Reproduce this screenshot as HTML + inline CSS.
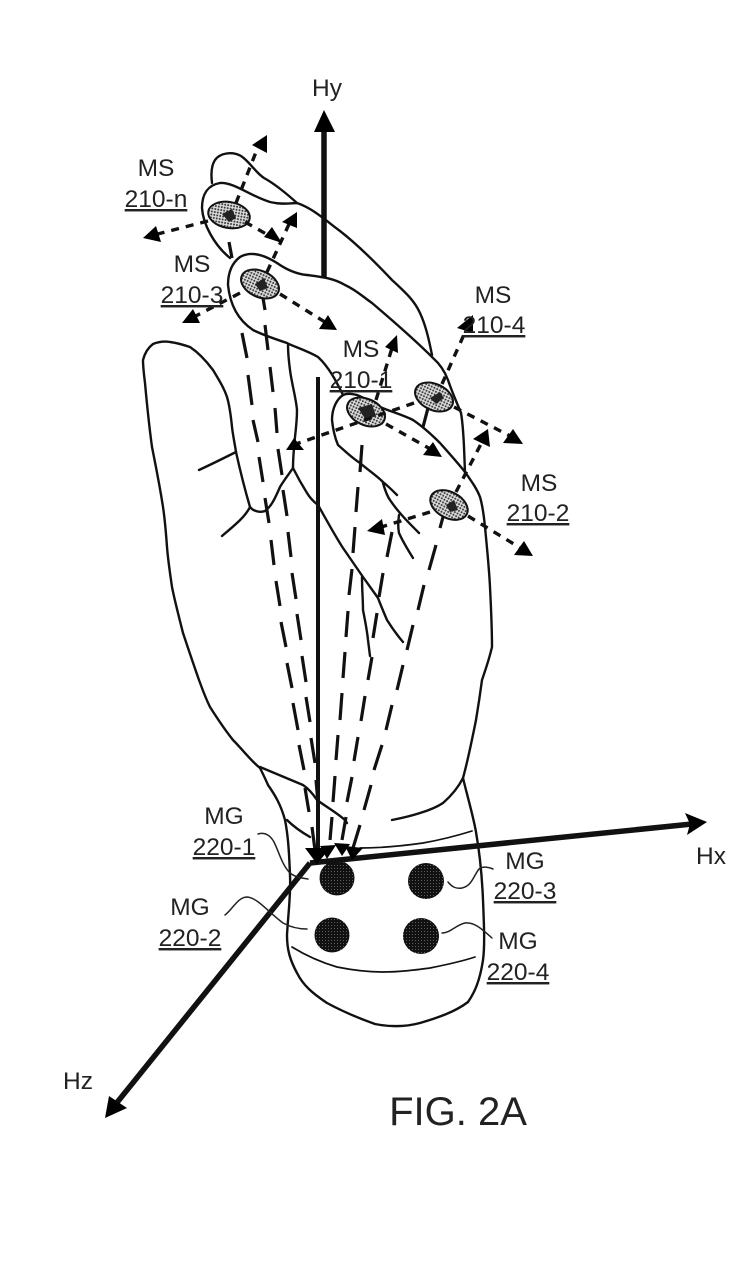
<!DOCTYPE html>
<html><head><meta charset="utf-8"><style>
html,body{margin:0;padding:0;background:#fff;width:756px;height:1266px;overflow:hidden}
svg{display:block}
text{font-family:"Liberation Sans",Arial,sans-serif;font-size:24.5px;fill:#222;text-anchor:middle}
.o{fill:none;stroke:#111;stroke-width:2.4;stroke-linecap:round;stroke-linejoin:round}
.t{fill:none;stroke:#222;stroke-width:1.5;stroke-linecap:round}
.d{fill:none;stroke:#111;stroke-width:3.2}
.a{fill:none;stroke:#111;stroke-width:3.4;stroke-dasharray:8 7}
.x{stroke:#111;stroke-width:5.5;fill:none}
</style></head><body>
<svg width="756" height="1266" viewBox="0 0 756 1266" xmlns="http://www.w3.org/2000/svg">
<defs>
<pattern id="p" width="3" height="3" patternUnits="userSpaceOnUse"><rect width="3" height="3" fill="#ddd"/><circle cx="1.5" cy="1.5" r="1" fill="#333"/></pattern>
<pattern id="q" width="3" height="3" patternUnits="userSpaceOnUse"><rect width="3" height="3" fill="#111"/><circle cx="1.5" cy="1.5" r=".5" fill="#777"/></pattern>
</defs>

<!-- hand outline -->
<path class="o" d="M212 183C211 175 211 166 215 160C220 153 232 151 241 156C250 162 255 172 264 178C275 184 287 194 297 203"/>
<path class="o" d="M230 258C214 245 203 224 202 208C202 194 208 185 220 183C234 182 250 196 270 202C282 205 291 203 297 203C312 208 324 219 340 231C358 245 375 262 392 280C405 292 414 300 420 313C426 326 429 340 432 355"/>
<path class="o" d="M343 395C338 385 330 368 318 357C306 350 292 346 287 343C275 339 263 335 253 330C238 320 230 305 228 285C228 272 232 263 240 257C252 250 266 256 277 263C287 270 296 274 307 275C322 277 333 278 345 285C356 290 362 296 372 303C392 320 415 340 433 358C441 365 445 372 448 380C452 392 457 403 461 413C464 430 464 450 465 472C472 482 477 489 480 497C483 507 484 517 485 527C487 548 489 567 490 587C491 607 492 627 492 647C489 660 486 668 482 680C480 695 478 708 476 720C472 740 468 760 463 778C467 795 473 815 476 832C480 855 482 875 483 900C484 925 485 945 483 960C480 980 475 992 468 1002C455 1012 437 1018 420 1023C405 1027 390 1027 375 1024C358 1018 340 1010 327 1003C312 993 303 985 297 973C290 960 287 950 287 935C288 915 291 895 290 875C289 850 288 835 285 820C281 805 275 795 268 785C265 778 262 772 260 768C250 760 243 750 233 740C225 730 217 718 210 707C205 697 202 688 199 680C193 663 188 648 183 633C179 617 175 602 172 587C170 573 168 560 167 547C166 533 165 520 163 507C160 487 156 467 152 447C149 425 147 405 145 383C144 375 143 367 143 360C145 352 149 347 153 344C158 342 164 341 170 342C178 343 184 345 190 347C199 353 207 362 213 370C219 380 224 388 227 397C230 407 231 417 232 427C233 436 235 445 236 452C240 470 245 490 250 507C253 511 260 513 265 511C272 506 276 496 280 487C284 480 289 474 293 468"/>
<path class="o" d="M343 395C337 399 332 408 332 420C333 430 335 438 338 445C345 451 352 458 360 463C368 470 376 475 383 482C388 486 392 490 397 495"/>
<path class="o" d="M343 395C348 393 352 394 357 395C365 398 372 403 380 407C392 412 403 415 413 420C422 426 432 435 440 443C448 452 457 462 465 472"/>
<path class="o" d="M383 483C385 490 387 496 390 500C398 512 408 522 419 533"/>
<path class="o" d="M399 515C398 522 398 528 399 533C403 542 408 550 413 558"/>
<path class="o" d="M288 345C288 355 289 362 290 370C292 385 296 398 297 410C297 420 296 428 295 437C294 447 293 458 293 468C297 476 302 485 307 493C310 498 314 502 318 505C326 519 334 534 343 548C350 558 356 567 363 577C368 584 373 591 378 598C381 606 384 613 387 620C392 628 397 635 403 642"/>
<path class="o" d="M250 507C245 517 235 525 222 536"/>
<path class="o" d="M199 470C212 464 224 458 236 452"/>
<path class="o" d="M362 577C362 590 363 600 363 610C365 620 367 630 368 640L370 656"/>
<path class="o" d="M260 767L303 785C309 789 313 794 317 800C325 806 336 812 345 820L347 823"/>
<path class="o" d="M287 820C295 828 303 833 310 837"/>
<path class="o" d="M392 820C402 818 411 816 420 813C430 810 437 807 443 803C451 796 458 788 463 778"/>
<path class="o" d="M360 848C380 848 402 846 423 843C440 840 456 836 472 831" style="stroke-width:1.7"/>
<path class="o" d="M292 947C305 955 320 962 337 967C352 970 368 972 383 972C400 972 415 970 430 968C445 965 460 962 475 957" style="stroke-width:1.7"/>

<!-- sensors -->
<ellipse cx="229" cy="215" rx="21" ry="13" transform="rotate(10 229 215)" fill="url(#p)" stroke="#111" stroke-width="2"/>
<ellipse cx="260" cy="284" rx="20" ry="13" transform="rotate(25 260 284)" fill="url(#p)" stroke="#111" stroke-width="2"/>
<ellipse cx="366" cy="412" rx="20" ry="13" transform="rotate(25 366 412)" fill="url(#p)" stroke="#111" stroke-width="2"/>
<ellipse cx="434" cy="397" rx="20" ry="13" transform="rotate(25 434 397)" fill="url(#p)" stroke="#111" stroke-width="2"/>
<ellipse cx="449" cy="505" rx="20" ry="13" transform="rotate(28 449 505)" fill="url(#p)" stroke="#111" stroke-width="2"/>
<path d="M222 214L232 209L236 218L229 222ZM255 284L264 278L268 288L260 291ZM358 408L372 404L376 416L366 420ZM430 398L440 392L444 398L436 404ZM446 505L454 500L458 510L450 512Z" fill="#222"/>

<!-- gauges -->
<circle cx="337" cy="878" r="17.5" fill="url(#q)"/>
<circle cx="426" cy="881" r="18" fill="url(#q)"/>
<circle cx="332" cy="935" r="17.5" fill="url(#q)"/>
<circle cx="421" cy="936" r="18" fill="url(#q)"/>

<!-- axes -->
<line class="x" x1="324" y1="277" x2="324" y2="125"/>
<polygon points="314,132 324,110 335,132" fill="#000"/>
<line x1="318" y1="377" x2="318" y2="855" stroke="#111" stroke-width="4"/>
<line class="x" x1="310" y1="863" x2="692" y2="824"/>
<polygon points="685,813 707,822 687,835 690,824" fill="#000"/>
<line class="x" x1="310" y1="863" x2="115" y2="1105"/>
<polygon points="109,1096 105,1118 127,1108" fill="#000"/>

<!-- long dashed -->
<path class="d" d="M229 242L232 258M242 333L247 358M248 375L252 405M253 420L258 442M259 457L263 482M265 498L269 523M271 540L274 565M276 581L280 606M281 622L286 647M287 663L292 688M293 703L298 730M299 745L304 770M305 788L309 812M312 827L315 850"/>
<path class="d" d="M263 298L265 310M265 325L268 350M270 367L273 392M275 408L277 433M278 449L282 475M283 490L287 516M288 532L291 557M292 573L296 599M297 614L301 640M302 656L306 682M306 697L310 722M311 738L315 763M316 780L318 803"/>
<path class="d" d="M362 445L360 472M358 487L356 512M355 527L353 553M352 569L349 595M348 611L346 637M345 652L343 678M342 693L340 720M338 735L336 760M335 776L333 802M332 817L330 840"/>
<path class="d" d="M423 427L428 408M392 532L387 557M383 573L379 597M377 613L373 638M372 657L368 680M365 696L361 721M358 737L354 761M352 777L347 802M346 817L342 840"/>
<path class="d" d="M443 517L440 528M436 545L429 570M424 585L418 610M413 625L407 650M403 665L397 690M392 705L386 730M382 745L374 770M371 785L364 810M360 825L353 848"/>
<polygon points="305,848 330,848 317,864" fill="#000"/>
<polygon points="320,846 336,845 327,859" fill="#000"/>
<polygon points="334,843 350,844 342,856" fill="#000"/>
<polygon points="345,846 363,848 352,860" fill="#000"/>

<!-- sensor axes -->
<line class="a" x1="236" y1="203" x2="258" y2="147"/>
<line class="a" x1="245" y1="222" x2="268" y2="235"/>
<line class="a" x1="208" y1="221" x2="150" y2="236"/>
<line class="a" x1="267" y1="272" x2="290" y2="222"/>
<line class="a" x1="280" y1="294" x2="328" y2="324"/>
<line class="a" x1="240" y1="293" x2="192" y2="318"/>
<line class="a" x1="376" y1="400" x2="392" y2="348"/>
<line class="a" x1="386" y1="424" x2="432" y2="450"/>
<line class="a" x1="414" y1="403" x2="296" y2="444"/>
<line class="a" x1="442" y1="384" x2="466" y2="330"/>
<line class="a" x1="454" y1="407" x2="512" y2="437"/>
<line class="a" x1="456" y1="492" x2="482" y2="442"/>
<line class="a" x1="468" y1="516" x2="522" y2="549"/>
<line class="a" x1="430" y1="512" x2="378" y2="528"/>
<g fill="#000">
<polygon points="252,145 267,135 267,153"/>
<polygon points="264,237 272,227 282,243"/>
<polygon points="143,238 156,226 161,242"/>
<polygon points="282,222 297,212 297,228"/>
<polygon points="319,329 328,315 337,330"/>
<polygon points="182,323 193,309 200,323"/>
<polygon points="385,347 397,335 398,353"/>
<polygon points="423,455 433,442 442,457"/>
<polygon points="286,450 294,438 304,450"/>
<polygon points="457,328 473,315 473,333"/>
<polygon points="503,443 513,429 523,444"/>
<polygon points="473,439 488,429 490,447"/>
<polygon points="514,555 524,541 533,556"/>
<polygon points="367,531 382,519 385,535"/>
</g>

<!-- leaders -->
<path class="t" d="M258 834C265 832 270 835 274 842C279 852 282 865 290 873C295 877 301 878 308 879"/>
<path class="t" d="M225 915C232 910 238 897 247 897C258 898 268 912 283 923C292 928 300 929 307 929"/>
<path class="t" d="M448 882C452 887 456 889 462 888C472 886 474 875 479 869C483 866 488 867 493 869"/>
<path class="t" d="M442 933C450 933 456 925 465 923C475 922 483 930 492 938"/>

<!-- labels -->
<text x="327" y="96">Hy</text>
<text x="711" y="864">Hx</text>
<text x="78" y="1089">Hz</text>
<text x="156" y="176">MS</text>
<text x="156" y="207" text-decoration="underline">210-n</text>
<text x="192" y="272">MS</text>
<text x="192" y="303" text-decoration="underline">210-3</text>
<text x="361" y="357">MS</text>
<text x="361" y="388" text-decoration="underline">210-1</text>
<text x="493" y="303">MS</text>
<text x="494" y="333" text-decoration="underline">210-4</text>
<text x="539" y="491">MS</text>
<text x="538" y="521" text-decoration="underline">210-2</text>
<text x="224" y="824">MG</text>
<text x="224" y="855" text-decoration="underline">220-1</text>
<text x="190" y="915">MG</text>
<text x="190" y="946" text-decoration="underline">220-2</text>
<text x="525" y="869">MG</text>
<text x="525" y="899" text-decoration="underline">220-3</text>
<text x="518" y="949">MG</text>
<text x="518" y="980" text-decoration="underline">220-4</text>
<text x="458" y="1125" style="font-size:40px">FIG. 2A</text>
</svg>
</body></html>
